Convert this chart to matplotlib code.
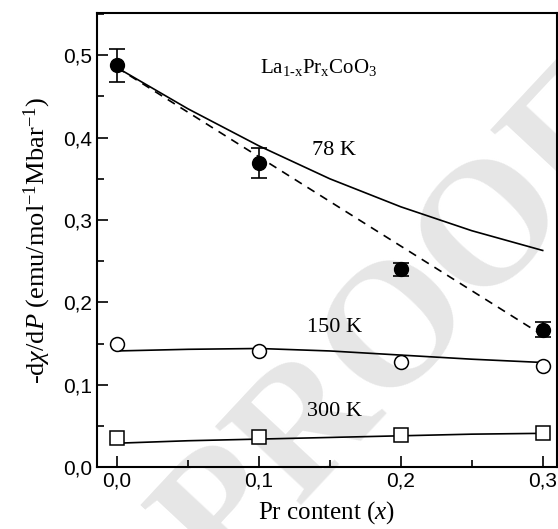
import matplotlib
matplotlib.use('Agg')
from matplotlib import pyplot as plt
from matplotlib.ticker import MultipleLocator, FuncFormatter

# measured points
x = [0.0, 0.1, 0.2, 0.3]
k78 = [0.488, 0.369, 0.240, 0.167]
k78_err = [0.020, 0.018, 0.008, 0.009]
k150 = [0.150, 0.141, 0.128, 0.123]
k300 = [0.035, 0.036, 0.039, 0.041]

# dashed line through 78 K data
dash_x = [0.0, 0.3]
dash_y = [0.485, 0.160]

# solid curves
curve_x = [0.0, 0.05, 0.1, 0.15, 0.2, 0.25, 0.3]
curve78 = [0.485, 0.435, 0.390, 0.350, 0.316, 0.287, 0.263]
curve150 = [0.141, 0.143, 0.144, 0.141, 0.136, 0.131, 0.127]
curve300 = [0.029, 0.032, 0.034, 0.036, 0.038, 0.040, 0.041]

plt.rcParams['font.family'] = 'Liberation Serif'
plt.rcParams['mathtext.fontset'] = 'custom'
plt.rcParams['mathtext.rm'] = 'Liberation Serif'
plt.rcParams['mathtext.it'] = 'Liberation Serif:italic'

fig = plt.figure(figsize=(5.58, 5.29), dpi=100)
ax = fig.add_axes([0.174, 0.117, 0.824, 0.858])
ax.set_facecolor('none')

# watermark behind the plot
fig.text(0.725, 0.38, 'PROOF', fontsize=128, family='Liberation Serif',
         weight='bold', color='#e6e6e6', rotation=47, ha='center',
         va='center', zorder=-5)

ax.plot(curve_x, curve78, c='black', lw=1.2)
ax.plot(dash_x, dash_y, c='black', lw=1.2, ls=(0, (5, 4)))
ax.errorbar(x, k78, yerr=k78_err, fmt='o', c='black', ms=10,
            capsize=6, elinewidth=1.2, capthick=1.2)

ax.plot(curve_x, curve150, c='black', lw=1.2)
ax.plot(x, k150, 'o', mfc='white', mec='black', ms=10, mew=1.1)

ax.plot(curve_x, curve300, c='black', lw=1.2)
ax.plot(x, k300, 's', mfc='white', mec='black', ms=9.5, mew=1.1)

ax.text(0.142, 0.485, r'La$_{1\text{-x}}$Pr$_\mathrm{x}$CoO$_3$', fontsize=15,
        ha='center', va='center')
ax.text(0.153, 0.384, '78 K', fontsize=16, ha='center', va='center')
ax.text(0.153, 0.170, '150 K', fontsize=16, ha='center', va='center')
ax.text(0.153, 0.067, '300 K', fontsize=16, ha='center', va='center')

ax.set_xlim(-0.014, 0.31)
ax.set_ylim(0, 0.551)
ax.xaxis.set_major_locator(MultipleLocator(0.1))
ax.xaxis.set_minor_locator(MultipleLocator(0.05))
ax.yaxis.set_major_locator(MultipleLocator(0.1))
ax.yaxis.set_minor_locator(MultipleLocator(0.05))
comma = FuncFormatter(lambda v, p: f'{v:.1f}'.replace('.', ','))
ax.xaxis.set_major_formatter(comma)
ax.yaxis.set_major_formatter(comma)
ax.tick_params(which='both', direction='in', width=1.2, top=False, right=False)
ax.tick_params(which='major', length=8, labelsize=15)
ax.tick_params(which='minor', length=5)
for lab in ax.get_xticklabels() + ax.get_yticklabels():
    lab.set_family('Liberation Sans')
for s in ax.spines.values():
    s.set_linewidth(1.5)

ax.set_xlabel('Pr content ($\\mathit{x}$)', fontsize=18, labelpad=6)
ax.set_ylabel(r'-d$\chi$/d$P$ (emu/mol$^{-1}$Mbar$^{-1}$)', fontsize=19,
              labelpad=7)

fig.savefig('out.png')
